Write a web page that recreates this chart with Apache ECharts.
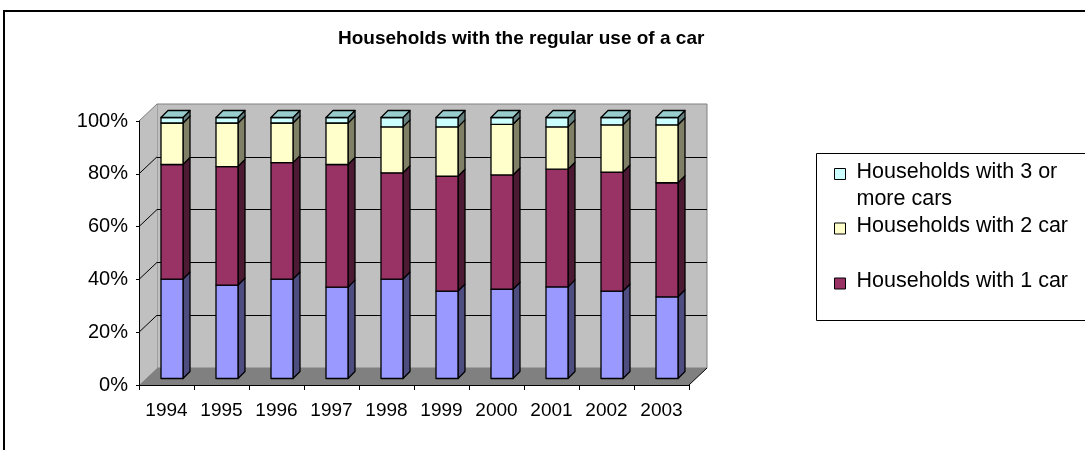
<!DOCTYPE html>
<html>
<head>
<meta charset="utf-8">
<script src="https://cdn.jsdelivr.net/npm/echarts@6/dist/echarts.min.js"></script>
<style>
  html, body { margin: 0; padding: 0; background: #ffffff; }
  #chart { width: 1085px; height: 450px; }
</style>
</head>
<body>
<div id="chart"></div>
<script>
// Share of households by number of cars available (per cent)
const years = ['1994', '1995', '1996', '1997', '1998', '1999', '2000', '2001', '2002', '2003'];
const noCar         = [38.1, 35.8, 38.1, 35.0, 38.1, 33.5, 34.2, 35.1, 33.5, 31.3];
const oneCar        = [43.9, 45.4, 44.6, 47.0, 40.7, 44.0, 43.8, 45.1, 45.6, 43.7];
const twoCars       = [15.9, 16.7, 15.2, 15.9, 17.6, 18.9, 19.4, 16.2, 18.1, 22.2];
const threePlusCars = [2.1, 2.1, 2.1, 2.1, 3.6, 3.6, 2.6, 3.6, 2.8, 2.8];
const yTicks = [0, 20, 40, 60, 80, 100];
const seriesNames = [
  'Households with no car',
  'Households with 1 car',
  'Households with 2 car',
  'Households with 3 or more cars'
];

const FONT = '"Liberation Sans", Arial, sans-serif';

// front / side / top shades of each prism
const shades = [
  { front: '#9999FF', side: '#4D4D80', top: '#7A7ACC' },
  { front: '#993366', side: '#4D1A33', top: '#7A2952' },
  { front: '#FFFFCC', side: '#808066', top: '#CCCCA3' },
  { front: '#CCFFFF', side: '#668080', top: '#99CCCC' }
];

// plot box on the front plane, and the depth of the walls
const PLOT = { left: 139, top: 121, width: 550, height: 264 };
const DEPTH = { dx: 18, dy: -17 };
// the columns sit a little way into the depth
const BAR_PLANE = { left: 144.5, top: 117.5, width: 550, height: 261 };
const BAR_RATIO = 0.4;
const BAR_DEPTH = 7;

// 100% stacking
const layers = [noCar, oneCar, twoCars, threePlusCars];
const totals = years.map((_, i) => layers.reduce((s, arr) => s + arr[i], 0));
const stacked = [];
{
  const running = years.map(() => 0);
  layers.forEach((arr) => {
    stacked.push(years.map((_, i) => {
      const lo = running[i];
      running[i] += arr[i] / totals[i] * 100;
      return [i, lo, running[i]];
    }));
  });
}

function prismRenderer(k, withTop) {
  const c = shades[k];
  return function (params, api) {
    const i = api.value(0);
    const lo = api.coord([i, api.value(1)]);
    const hi = api.coord([i, api.value(2)]);
    const w = api.size([1, 0])[0] * BAR_RATIO;
    const xl = lo[0] - w / 2, xr = lo[0] + w / 2;
    const yb = lo[1], yt = hi[1];
    const d = BAR_DEPTH;
    const edge = { stroke: '#000000', lineWidth: 1.3, lineJoin: 'round' };
    const children = [
      { type: 'polygon',
        shape: { points: [[xr, yb], [xr + d, yb - d], [xr + d, yt - d], [xr, yt]] },
        style: Object.assign({ fill: c.side }, edge) },
      { type: 'rect',
        shape: { x: xl, y: yt, width: w, height: yb - yt },
        style: Object.assign({ fill: c.front }, edge) }
    ];
    if (withTop) {
      children.push({ type: 'polygon',
        shape: { points: [[xl, yt], [xr, yt], [xr + d, yt - d], [xl + d, yt - d]] },
        style: Object.assign({ fill: c.top }, edge) });
    }
    return { type: 'group', children: children };
  };
}

// side wall, floor and the slanted tick lines joining front axis and back wall
function frameRenderer(params, api) {
  const cs = params.coordSys;
  const L = cs.x, T = cs.y, R = cs.x + cs.width, B = cs.y + cs.height;
  const dx = DEPTH.dx, dy = DEPTH.dy;
  const children = [
    { type: 'polygon', shape: { points: [[L, T], [L + dx, T + dy], [L + dx, B + dy], [L, B]] },
      style: { fill: '#C0C0C0' } },
    { type: 'polygon', shape: { points: [[L, B], [R, B], [R + dx, B + dy], [L + dx, B + dy]] },
      style: { fill: '#808080' } },
    { type: 'line', shape: { x1: L, y1: T, x2: L + dx, y2: T + dy },
      style: { stroke: '#808080', lineWidth: 1 } },
    { type: 'line', shape: { x1: R, y1: B, x2: R + dx, y2: B + dy },
      style: { stroke: '#000000', lineWidth: 1 } }
  ];
  yTicks.slice(1, -1).forEach((v) => {
    const y = api.coord([0, v])[1];
    children.push({ type: 'line', shape: { x1: L, y1: y, x2: L + dx, y2: y + dy },
      style: { stroke: '#000000', lineWidth: 1 } });
  });
  return { type: 'group', children: children };
}

const chart = echarts.init(document.getElementById('chart'), null, { renderer: 'canvas' });

const legendText = { fontFamily: FONT, fontSize: 21.5, color: '#000000', lineHeight: 27 };
const legendCommon = {
  orient: 'vertical', padding: 0, selectedMode: false,
  itemStyle: { borderColor: '#000000', borderWidth: 1 },
  textStyle: legendText
};

chart.setOption({
  animation: false,
  backgroundColor: '#ffffff',
  title: {
    text: 'Households with the regular use of a car',
    left: 338, top: 29, padding: 0,
    textStyle: { fontFamily: FONT, fontSize: 19, fontWeight: 'bold', color: '#000000' }
  },
  graphic: [
    { type: 'rect', z: -10, silent: true,
      shape: { x: 4, y: 11, width: 1200, height: 600 },
      style: { fill: 'none', stroke: '#000000', lineWidth: 2 } },
    { type: 'rect', z: 1, silent: true,
      shape: { x: 816.5, y: 153.5, width: 400, height: 167 },
      style: { fill: '#ffffff', stroke: '#000000', lineWidth: 1 } }
  ],
  legend: [
    Object.assign({}, legendCommon, {
      data: [{ name: seriesNames[3], icon: 'path://M0,0M0,10L11,10L11,21L0,21ZM17,54' }],
      left: 834, top: 158, itemWidth: 17, itemHeight: 54,
      formatter: (name) => name.replace(' 3 or ', ' 3 or\n')
    }),
    Object.assign({}, legendCommon, {
      data: [{ name: seriesNames[2], icon: 'path://M0,0M0,4L11,4L11,15L0,15ZM17,15' }],
      left: 834, top: 213, itemWidth: 17, itemHeight: 15
    }),
    Object.assign({}, legendCommon, {
      data: [{ name: seriesNames[1], icon: 'path://M0,0M0,4L11,4L11,15L0,15ZM17,15' }],
      left: 834, top: 268, itemWidth: 17, itemHeight: 15
    })
  ],
  grid: [
    // front plane: axes
    { left: PLOT.left, top: PLOT.top, width: PLOT.width, height: PLOT.height, containLabel: false },
    // back wall
    { left: PLOT.left + DEPTH.dx, top: PLOT.top + DEPTH.dy, width: PLOT.width, height: PLOT.height,
      show: true, backgroundColor: '#C0C0C0', borderColor: '#808080', borderWidth: 1 },
    // plane of the column fronts
    { left: BAR_PLANE.left, top: BAR_PLANE.top, width: BAR_PLANE.width, height: BAR_PLANE.height }
  ],
  xAxis: [
    { type: 'category', gridIndex: 0, data: years, z: 5,
      axisLine: { lineStyle: { color: '#000000', width: 1 } },
      axisTick: { show: true, length: 5, alignWithLabel: false, interval: 0,
                  lineStyle: { color: '#000000' } },
      axisLabel: { interval: 0, margin: 16, fontFamily: FONT, fontSize: 19, color: '#000000' },
      splitLine: { show: false } },
    { type: 'category', gridIndex: 1, data: years, show: false },
    { type: 'category', gridIndex: 2, data: years, show: false }
  ],
  yAxis: [
    { type: 'value', gridIndex: 0, min: 0, max: 100, interval: 20, z: 5,
      axisLine: { show: true, lineStyle: { color: '#000000', width: 1 } },
      axisTick: { show: true, length: 3, lineStyle: { color: '#000000' } },
      axisLabel: { formatter: '{value}%', margin: 11, fontFamily: FONT, fontSize: 20, color: '#000000' },
      splitLine: { show: false } },
    { type: 'value', gridIndex: 1, min: 0, max: 100, interval: 20,
      axisLine: { show: false }, axisTick: { show: false }, axisLabel: { show: false },
      splitLine: { show: true, showMinLine: false, showMaxLine: false,
                   lineStyle: { color: '#000000', width: 1 } } },
    { type: 'value', gridIndex: 2, min: 0, max: 100, show: false, splitLine: { show: false } }
  ],
  series: [
    { type: 'custom', name: 'frame', xAxisIndex: 0, yAxisIndex: 0, z: 1, silent: true,
      data: [[0, 0]], renderItem: frameRenderer }
  ].concat(stacked.map((rows, k) => ({
    type: 'custom',
    name: seriesNames[k],
    xAxisIndex: 2, yAxisIndex: 2,
    z: 3,
    silent: true,
    itemStyle: { color: shades[k].front },
    encode: { x: 0, y: [1, 2] },
    data: rows,
    renderItem: prismRenderer(k, k === layers.length - 1)
  })))
});
</script>
</body>
</html>
